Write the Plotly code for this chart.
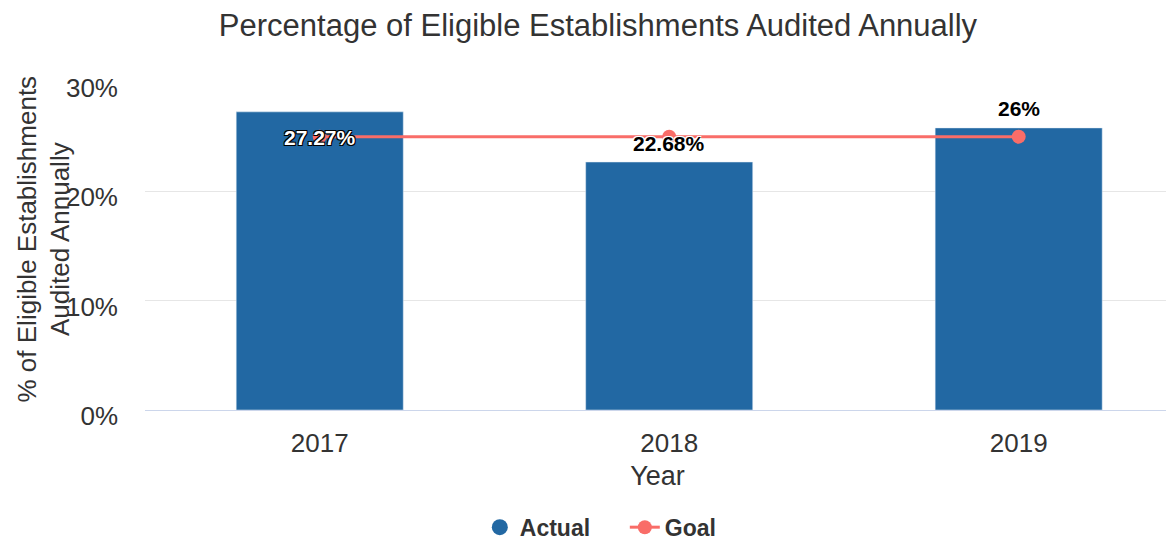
import plotly.graph_objects as go

years = ["2017", "2018", "2019"]
actual = [27.27, 22.68, 25.8]
actual_labels = ["27.27%", "22.68%", "26%"]
goal = [25, 25, 25]

font = "Liberation Sans, Arial, sans-serif"
bar_color = "#2268a3"
goal_color = "#f96d68"

# the page body has an 8px margin, so the figure is shrunk by that much
fig = go.Figure()

fig.add_trace(go.Bar(
    x=years, y=actual, name="Actual", marker_color=bar_color,
    width=0.478, showlegend=False, hoverinfo="x+y",
))
# legend entry drawn as a circle, like the original
fig.add_trace(go.Scatter(
    x=[None], y=[None], name="Actual", mode="markers",
    marker=dict(color=bar_color, size=16, symbol="circle"),
))
fig.add_trace(go.Scatter(
    x=years, y=goal, name="Goal", mode="lines+markers",
    line=dict(color=goal_color, width=3),
    marker=dict(color=goal_color, size=14),
))

# data labels
dark = "-1px -1px 0 #000, 1px -1px 0 #000, -1px 1px 0 #000, 1px 1px 0 #000"
light = "-1px -1px 0 #fff, 1px -1px 0 #fff, -1px 1px 0 #fff, 1px 1px 0 #fff"
for i, (v, lab) in enumerate(zip(actual, actual_labels)):
    inside = i == 0
    fig.add_annotation(
        x=i, y=v, text="<b>" + lab + "</b>", showarrow=False,
        yshift=-26 if inside else 19, yanchor="middle",
        font=dict(family=font, size=21, color="white" if inside else "black",
                  shadow=dark if inside else light),
    )

# y axis title (overlaps the tick labels in the original)
fig.add_annotation(
    text="% of Eligible Establishments<br>Audited Annually",
    xref="paper", yref="paper", x=-0.0985, y=0.52, textangle=-90,
    showarrow=False, xanchor="center", yanchor="middle",
    font=dict(family=font, size=26, color="#333333"),
)

fig.update_layout(
    width=1166, height=532,
    margin=dict(l=137, r=4, t=74, b=130),
    paper_bgcolor="white", plot_bgcolor="white",
    font=dict(family=font, size=26, color="#333333"),
    title=dict(text="Percentage of Eligible Establishments Audited Annually",
               x=0.506, xref="container", xanchor="center", y=0.968, yanchor="middle",
               font=dict(size=31, color="#333333")),
    legend=dict(orientation="h", xref="container", x=0.529, xanchor="center",
                yref="container", y=0.024, yanchor="middle", entrywidth=100,
                font=dict(size=23, color="#333333", weight="bold")),
)
fig.update_xaxes(
    type="category", range=[-0.5, 2.433], showgrid=False,
    showline=True, linecolor="#ccd6eb", linewidth=1, ticks="",
    title=dict(text="Year", standoff=8, font=dict(size=27)),
    tickfont=dict(size=26), ticklabelstandoff=10,
)
fig.update_yaxes(
    range=[0, 30], dtick=10, ticksuffix="%", showgrid=True,
    gridcolor="#e6e6e6", zeroline=False, showline=False,
    tickfont=dict(size=26), ticklabelstandoff=26, ticklabelshift=6,
)

fig.write_html("out.html")
